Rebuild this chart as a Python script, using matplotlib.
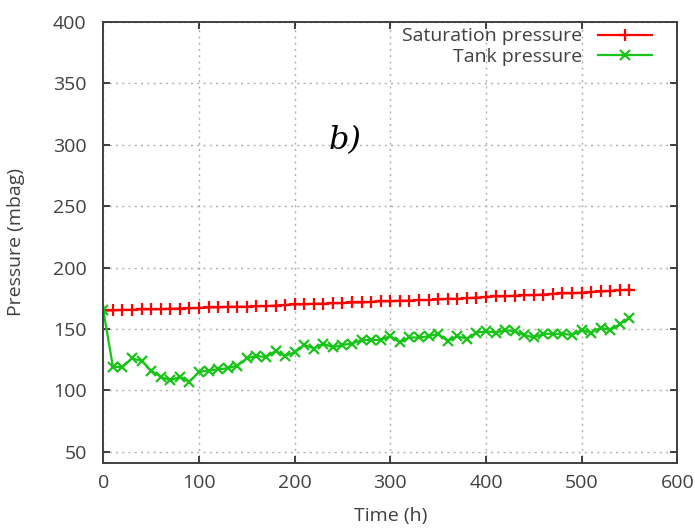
import matplotlib
matplotlib.use("Agg")
import matplotlib.pyplot as plt

plt.rcParams['font.family'] = ['Open Sans', 'DejaVu Sans']

time_h = [0, 10, 20, 30, 40, 50, 60, 70, 80, 90,
          100, 110, 120, 130, 140, 150, 160, 170, 180, 190,
          200, 210, 220, 230, 240, 250, 260, 270, 280, 290,
          300, 310, 320, 330, 340, 350, 360, 370, 380, 390,
          400, 410, 420, 430, 440, 450, 460, 470, 480, 490,
          500, 510, 520, 530, 540, 550]

saturation_pressure = [165, 165, 165.5, 165.5, 166, 166, 166, 166.5, 166.5, 167,
                       167, 167.5, 167.5, 168, 168, 168, 168.5, 168.5, 169, 169.5,
                       170, 170, 170.5, 170.5, 171, 171, 171.5, 171.5, 172, 172.5,
                       172.5, 173, 173, 173.5, 173.5, 174, 174.5, 174.5, 175, 175.5,
                       176, 176.5, 176.5, 177, 177.5, 177.5, 178, 178.5, 179, 179,
                       179.5, 180, 180.5, 181, 181.5, 182]

tank_pressure = [165, 119, 119, 126, 124, 116, 111, 108, 111, 107,
                 115, 116, 117, 118, 120, 126, 128, 127, 132, 128,
                 131, 137, 134, 138, 135, 137, 138, 141, 141, 141,
                 144, 139, 143, 143, 144, 146, 140, 144, 142, 147,
                 148, 147, 149, 148, 145, 143, 146, 146, 146, 145,
                 149, 147, 151, 149, 154, 159]

x_ticks = [0, 100, 200, 300, 400, 500, 600]
y_ticks = [50, 100, 150, 200, 250, 300, 350, 400]

fig = plt.figure(figsize=(6.95, 5.32), dpi=100)
ax = fig.add_axes([0.1487, 0.1303, 0.8258, 0.8283])

ax.plot(time_h, saturation_pressure, color='#ff0000', lw=1.6, marker='+',
        ms=9, mew=1.6, label='Saturation pressure')
ax.plot(time_h, tank_pressure, color='#18c418', lw=1.6, marker='x',
        ms=7, mew=1.6, label='Tank pressure')

ax.set_xlim(0, 600)
ax.set_ylim(41, 400)
ax.set_xticks(x_ticks)
ax.set_yticks(y_ticks)
ax.grid(True, color='#b0b0b0', linestyle=(0, (1.5, 3)), lw=1)

for s in ax.spines.values():
    s.set_color('#404040')
    s.set_linewidth(1.4)

ax.tick_params(direction='in', length=5, width=1.2, color='#202020',
               top=True, right=True, labelsize=14, labelcolor='#404040')
ax.tick_params(axis='x', pad=8)
ax.tick_params(axis='y', pad=12)

ax.set_xlabel('Time (h)', fontsize=14, color='#404040', labelpad=11)
ax.set_ylabel('Pressure (mbag)', fontsize=14, color='#404040', labelpad=20)

ax.text(0.421, 0.732, 'b)', transform=ax.transAxes, fontsize=23,
        family='DejaVu Serif', style='italic', ha='center', va='center')

leg = ax.legend(loc='upper right', bbox_to_anchor=(0.956, 0.988),
                frameon=False, markerfirst=False,
                fontsize=14, handlelength=2.8, labelspacing=0.12,
                borderaxespad=0.0, borderpad=0.0, handletextpad=0.77,
                labelcolor='#404040', alignment='right')

fig.savefig('out.png', dpi=100)
